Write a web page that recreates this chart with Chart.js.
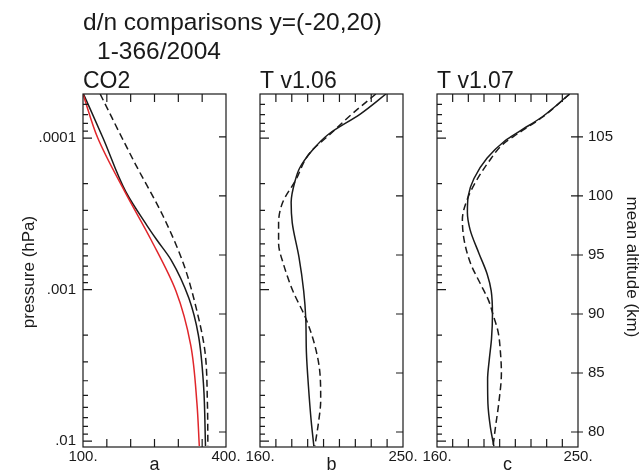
<!DOCTYPE html>
<html><head><meta charset="utf-8">
<script src="https://cdn.jsdelivr.net/npm/chart.js@4.4.1/dist/chart.umd.min.js"></script>
<style>
html,body{margin:0;padding:0;background:#fff;}
#wrap{position:relative;width:642px;height:471px;overflow:hidden;background:#fff;}
#wrap canvas{position:absolute;left:0;top:0;}
</style></head><body>
<div id="wrap">
<canvas id="ca" width="642" height="471"></canvas>
<canvas id="cb" width="642" height="471"></canvas>
<canvas id="cc" width="642" height="471"></canvas>
</div>
<script>
// ---------------- data (x value, mean altitude km) ----------------
// Panel a: CO2
const co2SolidAlt = [108.64, 104.91, 100.34, 97.45, 96.27, 94.57, 91.35, 88.22, 83.89, 78.81];
const co2Solid    = [101, 142, 190, 235, 255, 285, 322, 342, 353, 357];
const co2RedAlt   = [108.64, 104.91, 100.34, 96.27, 91.95, 87.37, 82.45, 78.81];
const co2Red      = [100, 131, 188, 243, 295, 326, 339, 344];
const co2DashAlt  = [108.64, 104.91, 102.62, 98.3, 94.23, 90.25, 86.78, 82.45, 78.81];
const co2Dash     = [136, 182, 211, 268, 311, 339, 356, 361, 362];
// Panel b: T v1.06
const t106SolidAlt = [108.64,106.96,105.23,103.79,102.35,101.33,99.46,97.72,94.83,91.95,89.64,86.75,83.86,80.97,78.81];
const t106Solid    = [239.3,223.3,203.1,192.4,184.9,182.2,179.6,180.3,184.5,187.5,188.8,189.2,190.5,192.2,193.9];
const t106DashAlt  = [108.64,106.96,105.23,103.64,101.33,99.46,97.72,95.99,94.26,91.95,89.64,87.34,85.02,82.71,80.69,78.81];
const t106Dash     = [232.9,218.0,204.1,191.3,182.4,174.3,171.7,171.7,174.7,180.7,188.8,194.5,197.7,198.2,196.7,194.5];
// Panel c: T v1.07
const t107SolidAlt = [108.64,106.67,105.52,104.66,103.21,101.48,100.04,98.59,97.15,95.13,93.39,91.95,89.93,87.91,86.17,84.45,82.42,80.40,78.81];
const t107Solid    = [244.7,226.8,213.1,203.2,192.0,183.6,180.0,179.4,181.1,186.8,192.0,194.6,195.4,194.8,193.4,192.3,192.5,194.1,196.3];
const t107DashAlt  = [108.64,106.67,105.23,104.37,102.92,101.19,99.75,98.01,96.28,94.26,92.53,91.09,89.93,88.49,86.75,85.02,82.42,80.40,78.81];
const t107Dash     = [244.7,227.2,211.0,202.0,193.1,184.7,179.4,176.2,177.3,181.5,187.8,193.1,195.8,199.0,200.5,201.1,199.4,197.3,195.8];

// ---------------- axes / ticks ----------------
const altRange = [78.73, 108.64];
const pRange = [5.12e-5, 0.01095];
const altTicks = [80, 85, 90, 95, 100, 105];
const altLabels = ['80', '85', '90', '95', '100', '105'];
const pMajorTicks = [1e-4, 1e-3, 1e-2];
const pMajorLabels = ['.0001', '.001', '.01'];
const co2Range = [100, 400];
const co2Ticks = [100, 150, 200, 250, 300, 350, 400];
const co2Labels = ['100.', '', '', '', '', '', '400.'];
const tRange = [160, 250];
const tTicks = [160, 170, 180, 190, 200, 210, 220, 230, 240, 250];
const tLabels = ['160.', '', '', '', '', '', '', '', '', '250.'];

const mainTitle = 'd/n comparisons y=(-20,20)';
const subTitle = '1-366/2004';
const panelTitles = ['CO2', 'T v1.06', 'T v1.07'];
const panelLetters = ['a', 'b', 'c'];
const yTitleLeft = 'pressure (hPa)';
const yTitleRight = 'mean altitude (km)';

// log tick list (minor ticks at 1..9 x decade)
const pTickList = [];
for (let e = -5; e <= -2; e++) for (let m = 1; m <= 9; m++) {
  const v = m * Math.pow(10, e);
  if (v >= pRange[0] && v <= pRange[1]) pTickList.push(v);
}

const FONT = "'Liberation Sans', Arial, Helvetica, sans-serif";
const INK = '#1a1a1a';
const RED = '#e0262b';
const TOP = 94, BOTTOM = 447, W = 642, H = 471;

function pts(xs, ys) { return xs.map((v, i) => ({ x: v, y: ys[i] })); }
function isMajor(v) { return pMajorTicks.findIndex(m => Math.abs(v / m - 1) < 1e-6); }

const framePlugin = {
  id: 'frame',
  afterDatasetsDraw(chart, args, o) {
    const { ctx, chartArea: a } = chart;
    const xs = chart.scales.x, ps = chart.scales.p, as = chart.scales.alt;
    ctx.save();
    ctx.strokeStyle = INK; ctx.lineWidth = 1.2;
    ctx.strokeRect(a.left, a.top, a.right - a.left, a.bottom - a.top);
    ctx.beginPath();
    xs.ticks.forEach(t => {
      const px = xs.getPixelForValue(t.value);
      if (px <= a.left + 1 || px >= a.right - 1) return;
      ctx.moveTo(px, a.bottom); ctx.lineTo(px, a.bottom - 8);
      ctx.moveTo(px, a.top); ctx.lineTo(px, a.top + 8);
    });
    ps.ticks.forEach(t => {
      const py = ps.getPixelForValue(t.value);
      if (py < a.top || py > a.bottom) return;
      const len = isMajor(t.value) >= 0 ? 9 : 5;
      ctx.moveTo(a.left, py); ctx.lineTo(a.left + len, py);
    });
    as.ticks.forEach(t => {
      const py = as.getPixelForValue(t.value);
      ctx.moveTo(a.right - 7, py); ctx.lineTo(a.right + (o.rightOut ? 5 : 0), py);
    });
    ctx.stroke();
    ctx.restore();
  },
  afterDraw(chart, args, o) {
    const ctx = chart.ctx;
    (o.texts || []).forEach(t => {
      ctx.save();
      ctx.fillStyle = INK;
      ctx.font = t.size + 'px ' + FONT;
      ctx.textAlign = t.align || 'left';
      ctx.textBaseline = 'alphabetic';
      ctx.translate(t.x, t.y);
      if (t.rot) ctx.rotate(t.rot * Math.PI / 180);
      ctx.fillText(t.text, 0, 0);
      ctx.restore();
    });
  }
};

function makePanel(id, geom, xRange, xTicks, xLabels, datasets, cfg) {
  const leftW = cfg.leftLabels ? 70 : 0;
  const rightW = cfg.rightLabels ? 60 : 0;
  const botH = H - BOTTOM;
  return new Chart(document.getElementById(id), {
    type: 'line',
    data: { datasets },
    options: {
      responsive: false, animation: false, devicePixelRatio: 1,
      indexAxis: 'y',
      layout: { autoPadding: false, padding: { left: geom.left - leftW, right: W - geom.right - rightW, top: TOP, bottom: 0 } },
      plugins: { legend: { display: false }, tooltip: { enabled: false }, frame: cfg },
      elements: { point: { radius: 0 }, line: { cubicInterpolationMode: 'monotone', borderWidth: 1.5 } },
      scales: {
        x: {
          type: 'linear', position: 'bottom', min: xRange[0], max: xRange[1],
          afterFit: s => { s.height = botH; },
          afterBuildTicks: s => { s.ticks = xTicks.map(v => ({ value: v })); },
          ticks: { autoSkip: false, maxRotation: 0, minRotation: 0, padding: 1, color: INK, font: { family: FONT, size: 15 },
                   callback: (v) => { const i = xTicks.indexOf(v); return i >= 0 ? xLabels[i] : ''; } },
          grid: { display: false, drawTicks: false }, border: { display: false }
        },
        p: {
          type: 'logarithmic', position: 'left', reverse: true, min: pRange[0], max: pRange[1],
          afterFit: s => { s.width = leftW; },
          afterBuildTicks: s => { s.ticks = pTickList.map(v => ({ value: v })); },
          ticks: { display: cfg.leftLabels, autoSkip: false, padding: 7, color: INK, font: { family: FONT, size: 15 },
                   callback: (v) => { const i = isMajor(v); return i >= 0 ? pMajorLabels[i] : ''; } },
          grid: { display: false, drawTicks: false }, border: { display: false }
        },
        alt: {
          type: 'linear', position: 'right', min: altRange[0], max: altRange[1],
          afterFit: s => { s.width = rightW; },
          afterBuildTicks: s => { s.ticks = altTicks.map(v => ({ value: v })); },
          ticks: { display: cfg.rightLabels, autoSkip: false, padding: 10, color: INK, font: { family: FONT, size: 15 },
                   callback: (v) => { const i = altTicks.indexOf(v); return i >= 0 ? altLabels[i] : ''; } },
          grid: { display: false, drawTicks: false }, border: { display: false }
        }
      }
    },
    plugins: [framePlugin]
  });
}

const solid = (d, color) => ({ data: d, yAxisID: 'alt', xAxisID: 'x', borderColor: color || INK, borderWidth: 1.5, fill: false });
const dashed = (d) => ({ data: d, yAxisID: 'alt', xAxisID: 'x', borderColor: INK, borderWidth: 1.5, borderDash: [7, 4], fill: false });

const G = [{ left: 83, right: 226 }, { left: 260, right: 403 }, { left: 437, right: 578 }];

makePanel('ca', G[0], co2Range, co2Ticks, co2Labels, [
  solid(pts(co2Red, co2RedAlt), RED),
  solid(pts(co2Solid, co2SolidAlt)),
  dashed(pts(co2Dash, co2DashAlt))
], { leftLabels: true, rightLabels: false, rightOut: false, texts: [
  { text: mainTitle, x: 83, y: 30, size: 24.5 },
  { text: subTitle, x: 97, y: 59, size: 24.5 },
  { text: panelTitles[0], x: 83, y: 88, size: 23 },
  { text: panelLetters[0], x: 154.5, y: 470, size: 18, align: 'center' },
  { text: yTitleLeft, x: 34, y: 272, size: 17, align: 'center', rot: -90 }
] });

makePanel('cb', G[1], tRange, tTicks, tLabels, [
  solid(pts(t106Solid, t106SolidAlt)),
  dashed(pts(t106Dash, t106DashAlt))
], { leftLabels: false, rightLabels: false, rightOut: false, texts: [
  { text: panelTitles[1], x: 260, y: 88, size: 23 },
  { text: panelLetters[1], x: 331.5, y: 470, size: 18, align: 'center' }
] });

makePanel('cc', G[2], tRange, tTicks, tLabels, [
  solid(pts(t107Solid, t107SolidAlt)),
  dashed(pts(t107Dash, t107DashAlt))
], { leftLabels: false, rightLabels: true, rightOut: true, texts: [
  { text: panelTitles[2], x: 437, y: 88, size: 23 },
  { text: panelLetters[2], x: 507.5, y: 470, size: 18, align: 'center' },
  { text: yTitleRight, x: 627, y: 267, size: 17, align: 'center', rot: 90 }
] });
</script>
</body></html>
